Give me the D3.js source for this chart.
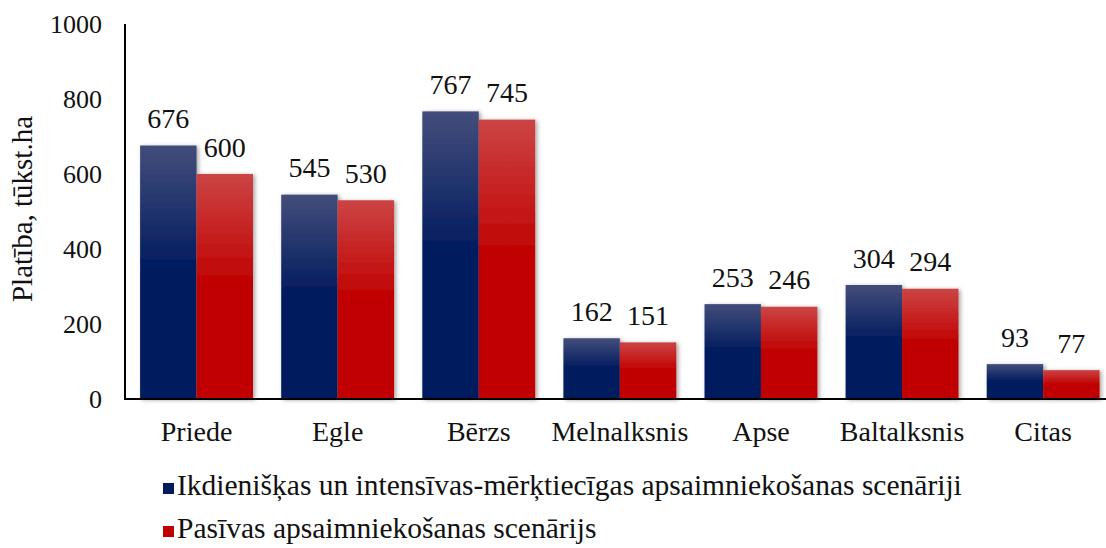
<!DOCTYPE html>
<html>
<head>
<meta charset="utf-8">
<script src="https://cdn.jsdelivr.net/npm/d3@7"></script>
<style>
  body { margin: 0; background: #fff; }
</style>
</head>
<body>
<div id="chart"></div>
<script>
const categories = ['Priede', 'Egle', 'Bērzs', 'Melnalksnis', 'Apse', 'Baltalksnis', 'Citas'];
const seriesNames = [
    'Ikdienišķas un intensīvas-mērķtiecīgas apsaimniekošanas scenāriji',
    'Pasīvas apsaimniekošanas scenārijs'
];
const intensive = [676, 545, 767, 162, 253, 304, 93];
const passive = [600, 530, 745, 151, 246, 294, 77];
const yTicks = [0, 200, 400, 600, 800, 1000];

const width = 1106;
const height = 548;
const FONT = "'Liberation Serif', 'Times New Roman', serif";

const colors = [
    { top: '#434d7b', bottom: '#001a5e', key: 'b' },
    { top: '#cc4444', bottom: '#c00000', key: 'r' }
];

const svg = d3.select('#chart').append('svg')
              .attr('width', width)
              .attr('height', height);

const defs = svg.append('defs');
colors.forEach(c => {
    const g = defs.append('linearGradient')
                  .attr('id', 'grad-' + c.key)
                  .attr('x1', 0).attr('y1', 0)
                  .attr('x2', 0).attr('y2', 1);
    g.append('stop').attr('offset', '0%').attr('stop-color', c.top);
    g.append('stop').attr('offset', '50%').attr('stop-color', c.bottom);
    g.append('stop').attr('offset', '100%').attr('stop-color', c.bottom);
});
const shadow = defs.append('filter').attr('id', 'shadow')
                   .attr('x', '-20%').attr('y', '-20%')
                   .attr('width', '150%').attr('height', '140%');
shadow.append('feDropShadow')
      .attr('dx', 2).attr('dy', 1)
      .attr('stdDeviation', 2)
      .attr('flood-color', '#000')
      .attr('flood-opacity', 0.35);

const left = 126;
const step = 141.1;

const y = d3.scaleLinear()
            .domain([0, 1000])
            .range([399, 24]);

const x = d3.scaleBand()
            .domain(categories)
            .range([left, left + step * categories.length])
            .paddingInner(0.2)
            .paddingOuter(0.1);

const x1 = d3.scaleBand()
             .domain([0, 1])
             .range([0, x.bandwidth()]);

const data = [intensive, passive];

// bars
data.forEach((values, s) => {
    svg.append('g')
       .selectAll('rect')
       .data(values)
       .enter().append('rect')
       .attr('x', (d, i) => x(categories[i]) + x1(s))
       .attr('y', d => y(d))
       .attr('width', x1.bandwidth())
       .attr('height', d => y(0) - y(d))
       .attr('fill', `url(#grad-${colors[s].key})`)
       .attr('filter', 'url(#shadow)');
});

// value labels
const valueLabels = svg.append('g').attr('class', 'values');
data.forEach((values, s) => {
    valueLabels.append('g')
       .selectAll('text')
       .data(values)
       .enter().append('text')
       .attr('x', (d, i) => x(categories[i]) + x1(s) + x1.bandwidth() / 2)
       .attr('y', d => y(d) - 17.5)
       .attr('text-anchor', 'middle')
       .text(d => d);
});

// y axis
const yAxis = d3.axisLeft(y)
                .tickValues(yTicks)
                .tickFormat(d3.format('d'))
                .tickSize(0)
                .tickPadding(23);
const ya = svg.append('g')
              .attr('transform', `translate(${left - 1},0)`)
              .call(yAxis);
ya.select('.domain').attr('stroke', '#000').attr('stroke-width', 2).attr('d', `M0,${y(1000)}V${y(0)}`);

// x axis
const xAxis = d3.axisBottom(x).tickSize(0).tickPadding(22);
const xa = svg.append('g')
              .attr('transform', `translate(0,${y(0)})`)
              .call(xAxis);
xa.select('.domain').attr('stroke', '#000').attr('stroke-width', 2).attr('d', `M${left - 2},0H${width}`);

// y axis title
const title = svg.append('text')
   .attr('transform', 'translate(32,209) rotate(-90)')
   .attr('text-anchor', 'middle')
   .text('Platība, tūkst.ha');

// legend
const legend = svg.append('g')
                  .selectAll('g')
                  .data(seriesNames)
                  .enter().append('g')
                  .attr('transform', (d, i) => `translate(163,${483 + i * 43})`);
legend.append('rect')
      .attr('width', 11).attr('height', 11)
      .attr('fill', (d, i) => colors[i].bottom);
const legendText = legend.append('text')
      .attr('x', 14)
      .attr('y', 12)
      .text(d => d);

svg.selectAll('g').attr('font-family', null);
svg.selectAll('text')
   .attr('font-family', FONT)
   .style('fill', '#111');
ya.selectAll('text').style('font-size', '26px');
valueLabels.selectAll('text').style('font-size', '28px');
xa.selectAll('text').style('font-size', '28px');
title.style('font-size', '29px');
legendText.style('font-size', '29.5px');
</script>
</body>
</html>
